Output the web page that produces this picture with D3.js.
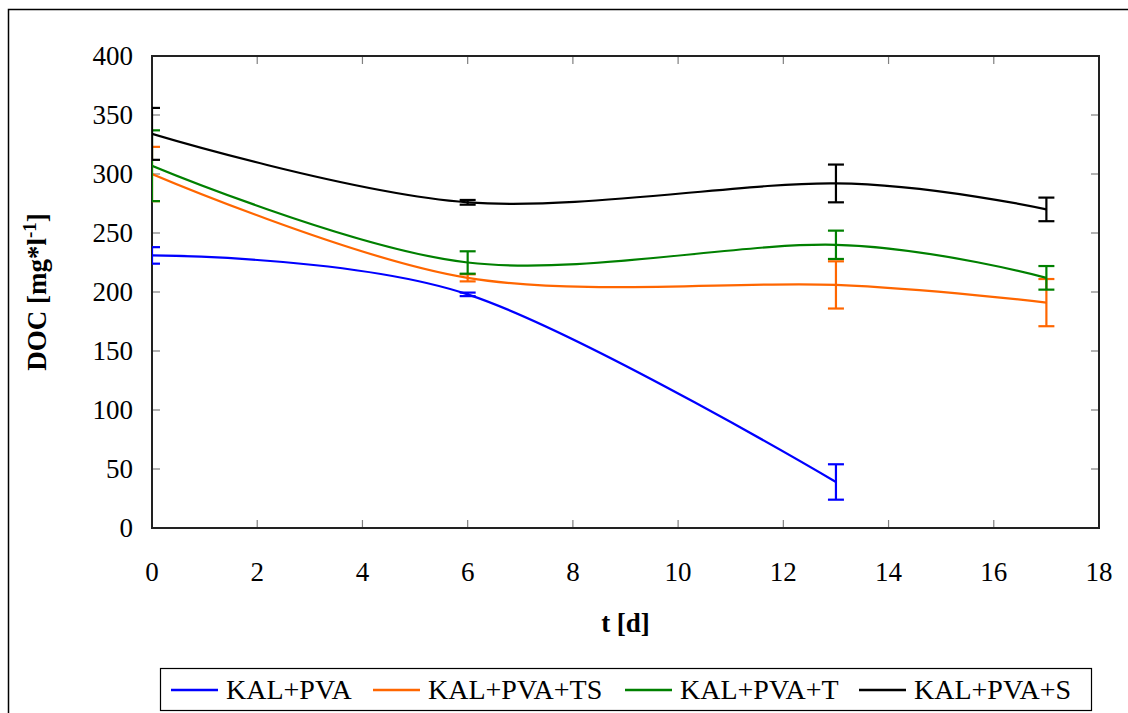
<!DOCTYPE html>
<html>
<head>
<meta charset="utf-8">
<script src="https://cdn.jsdelivr.net/npm/d3@7"></script>
<style>
  body { margin: 0; background: #fff; }
  text { font-family: "Liberation Serif", "Times New Roman", serif; }
</style>
</head>
<body>
<div id="chart"></div>
<script>
// days of sampling
var days = [0, 6, 13, 17];
var seriesNames = ["KAL+PVA", "KAL+PVA+TS", "KAL+PVA+T", "KAL+PVA+S"];
var seriesColors = ["#0000ff", "#ff6600", "#008000", "#000000"];
// DOC mean values, mg/l
var docPva   = [231, 198, 39, null];
var docPvaTs = [300, 212, 206, 191];
var docPvaT  = [307, 225, 240, 212];
var docPvaS  = [334, 276, 292, 270];
// standard deviations
var errPva   = [7, 1.5, 15, null];
var errPvaTs = [23, 3, 20, 20];
var errPvaT  = [30, 9.5, 12, 10];
var errPvaS  = [22, 2, 16, 10];
var xTicks = [0, 2, 4, 6, 8, 10, 12, 14, 16, 18];
var yTicks = [0, 50, 100, 150, 200, 250, 300, 350, 400];

var width = 1128, height = 713,
    margin = {left: 152, top: 56, right: 1099, bottom: 528};

var series = [docPva, docPvaTs, docPvaT, docPvaS].map(function(vals, i) {
    var errs = [errPva, errPvaTs, errPvaT, errPvaS][i];
    return {
        name: seriesNames[i],
        color: seriesColors[i],
        points: days.map((d, j) => ({t: d, v: vals[j], e: errs[j]})).filter(p => p.v != null)
    };
});

var x = d3.scaleLinear().domain([0, 18]).range([margin.left, margin.right]),
    y = d3.scaleLinear().domain([0, 400]).range([margin.bottom, margin.top]);

var svg = d3.select("#chart").append("svg")
    .attr("width", width)
    .attr("height", height);

// outer frame
svg.append("rect")
    .attr("x", 8.5).attr("y", 9.5)
    .attr("width", 1130).attr("height", 720)
    .attr("fill", "none").attr("stroke", "#000").attr("stroke-width", 1.5);

svg.append("defs").append("clipPath").attr("id", "plot")
    .append("rect")
    .attr("x", margin.left).attr("y", margin.top)
    .attr("width", margin.right - margin.left)
    .attr("height", margin.bottom - margin.top);

// inner ticks on all four sides
var tickLen = 8;
var ax = svg.append("g").attr("stroke", "#808080").attr("stroke-width", 1.2);
xTicks.slice(1, -1).forEach(function(t) {
    ax.append("line").attr("x1", x(t)).attr("x2", x(t)).attr("y1", margin.bottom).attr("y2", margin.bottom - tickLen);
    ax.append("line").attr("x1", x(t)).attr("x2", x(t)).attr("y1", margin.top).attr("y2", margin.top + tickLen);
});
yTicks.slice(1, -1).forEach(function(v) {
    ax.append("line").attr("x1", margin.left).attr("x2", margin.left + tickLen).attr("y1", y(v)).attr("y2", y(v));
    ax.append("line").attr("x1", margin.right).attr("x2", margin.right - tickLen).attr("y1", y(v)).attr("y2", y(v));
});

svg.append("rect")
    .attr("x", margin.left).attr("y", margin.top)
    .attr("width", margin.right - margin.left)
    .attr("height", margin.bottom - margin.top)
    .attr("fill", "none").attr("stroke", "#222").attr("stroke-width", 2);

// tick labels
svg.append("g").selectAll("text")
    .data(xTicks).enter().append("text")
    .attr("x", d => x(d)).attr("y", 581)
    .attr("text-anchor", "middle")
    .attr("font-size", 27)
    .text(d => d);
svg.append("g").selectAll("text")
    .data(yTicks).enter().append("text")
    .attr("x", 133).attr("y", d => y(d) + 9)
    .attr("text-anchor", "end")
    .attr("font-size", 27)
    .text(d => d);

// axis titles
svg.append("text")
    .attr("x", x(9)).attr("y", 632)
    .attr("text-anchor", "middle")
    .attr("font-size", 27).attr("font-weight", "bold")
    .text("t [d]");
var yt = svg.append("text")
    .attr("transform", "translate(46," + y(200) + ") rotate(-90)")
    .attr("text-anchor", "middle")
    .attr("font-size", 27).attr("font-weight", "bold");
yt.append("tspan").text("DOC [mg*l");
yt.append("tspan").attr("dy", -10).attr("font-size", 19).text("-1");
yt.append("tspan").attr("dy", 10).text("]");

// lines and error bars
var line = d3.line()
    .x(d => x(d.t)).y(d => y(d.v))
    .curve(d3.curveCardinal.tension(0));

var plot = svg.append("g").attr("clip-path", "url(#plot)");
series.forEach(function(s) {
    plot.append("path")
        .attr("d", line(s.points))
        .attr("fill", "none")
        .attr("stroke", s.color)
        .attr("stroke-width", 2.2);
    var eb = plot.append("g").attr("stroke", s.color).attr("stroke-width", 2.2);
    s.points.forEach(function(p) {
        eb.append("line").attr("x1", x(p.t)).attr("x2", x(p.t)).attr("y1", y(p.v - p.e)).attr("y2", y(p.v + p.e));
        [p.v - p.e, p.v + p.e].forEach(function(v) {
            eb.append("line").attr("x1", x(p.t) - 8).attr("x2", x(p.t) + 8).attr("y1", y(v)).attr("y2", y(v));
        });
    });
});

// legend
var lg = svg.append("g");
lg.append("rect")
    .attr("x", 160.5).attr("y", 668.5).attr("width", 931).attr("height", 42)
    .attr("fill", "#fff").attr("stroke", "#000").attr("stroke-width", 1.2);
var legendX = [171, 373, 625, 859];
series.forEach(function(s, i) {
    lg.append("line")
        .attr("x1", legendX[i]).attr("x2", legendX[i] + 47)
        .attr("y1", 690).attr("y2", 690)
        .attr("stroke", s.color).attr("stroke-width", 2.5);
    lg.append("text")
        .attr("x", legendX[i] + 55).attr("y", 699)
        .attr("font-size", 28)
        .text(s.name);
});
</script>
</body>
</html>
